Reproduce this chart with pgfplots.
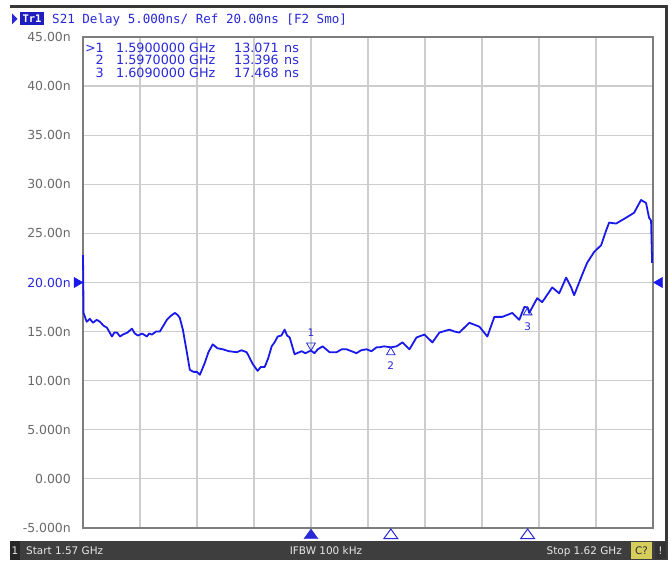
\documentclass[border=0pt]{standalone}
\usepackage{fontspec}
\setmainfont{DejaVu Sans}
\newfontfamily\monofont{DejaVu Sans Mono}
\usepackage{pgfplots}
\pgfplotsset{compat=1.18}
\definecolor{traceblue}{RGB}{25,25,235}
\definecolor{txtblue}{RGB}{40,40,215}
\definecolor{trbox}{RGB}{30,30,190}
\definecolor{labelgray}{RGB}{105,105,105}
\definecolor{gridgray}{RGB}{205,205,205}
\definecolor{framegray}{RGB}{125,125,125}
\definecolor{darkframe}{RGB}{55,55,55}
\definecolor{bargray}{RGB}{62,62,62}
\definecolor{bartext}{RGB}{232,232,232}
\definecolor{cyellow}{RGB}{214,206,92}
\begin{document}
\begin{tikzpicture}
\begin{scope}[x=1bp,y=1bp]
\useasboundingbox (0,0) rectangle (671,563);
% outer frame lines
\fill[darkframe] (10,555) rectangle (668,558);
\fill[darkframe] (665,22) rectangle (668,558);
% header
\fill[txtblue] (12,538.5) -- (17.5,544) -- (12,549.5) -- cycle;
\fill[trbox] (20,537.5) rectangle (44,550.5);
\node[white, font=\monofont\bfseries\fontsize{10.5}{12}\selectfont, inner sep=0pt] at (32,544) {Tr1};
\node[txtblue, anchor=base west, font=\monofont\fontsize{12.6}{14}\selectfont, inner sep=0pt] at (52,539.5) {S21 Delay 5.000ns/ Ref 20.00ns [F2 Smo]};
\end{scope}
\begin{axis}[
  at={(83bp,35bp)}, anchor=south west,
  scale only axis, width=570bp, height=491bp,
  xmin=1570, xmax=1620, ymin=-5, ymax=45,
  xtick={1570,1575,...,1620}, xticklabels={},
  ytick={-5,0,5,10,15,20,25,30,35,40,45},
  yticklabels={-5.000n,0.000,5.000n,10.00n,15.00n,\textcolor{txtblue}{20.00n},25.00n,30.00n,35.00n,40.00n,45.00n},
  yticklabel style={font=\fontsize{12.5}{13}\selectfont, text=labelgray, anchor=east, inner sep=0pt, xshift=-12bp},
  grid=major, major grid style={gridgray, line width=1.2bp},
  axis line style={framegray, line width=1.6bp},
  major tick length=0pt,
  clip=false,
]
\addplot[traceblue, line width=1.8bp, line join=round] coordinates {
(1570.00,22.8) (1570.05,16.9) (1570.32,16.0) (1570.60,16.3) (1570.88,15.9)
(1571.20,16.2) (1571.49,16.0) (1571.80,15.6) (1572.10,15.4) (1572.54,14.5)
(1572.75,14.9) (1572.98,14.9) (1573.25,14.5) (1573.50,14.7) (1573.90,14.9)
(1574.29,15.3) (1574.55,14.8) (1574.82,14.6) (1575.20,14.8) (1575.60,14.5)
(1575.80,14.8) (1576.04,14.7) (1576.40,15.0) (1576.74,15.0) (1577.05,15.6)
(1577.36,16.2) (1577.70,16.6) (1578.06,16.9) (1578.30,16.7) (1578.49,16.4)
(1578.76,15.2) (1579.11,12.9) (1579.37,11.1) (1579.70,10.9) (1580.00,10.9)
(1580.25,10.6) (1580.68,11.8) (1581.00,12.9) (1581.38,13.7) (1581.80,13.3)
(1582.26,13.2) (1582.80,13.0) (1583.49,12.9) (1583.90,13.1) (1584.36,12.9)
(1584.89,11.7) (1585.32,11.0) (1585.60,11.4) (1585.94,11.4) (1586.25,12.3)
(1586.55,13.5) (1586.80,13.9) (1587.08,14.5) (1587.40,14.6) (1587.69,15.2)
(1587.90,14.6) (1588.13,14.4) (1588.56,12.7) (1589.18,13.0) (1589.50,12.8)
(1590.00,13.07) (1590.30,12.8) (1590.60,13.2) (1591.02,13.5) (1591.63,12.9)
(1592.24,12.9) (1592.70,13.2) (1593.12,13.2) (1593.99,12.8) (1594.40,13.1)
(1594.87,13.2) (1595.30,13.0) (1595.75,13.4) (1596.01,13.4) (1596.40,13.5)
(1597.00,13.40) (1597.50,13.5) (1598.02,13.9) (1598.64,13.2) (1599.25,14.4)
(1599.95,14.7) (1600.65,13.9) (1601.26,14.9) (1602.14,15.2) (1602.60,15.0)
(1603.01,14.9) (1603.89,15.9) (1604.77,15.5) (1605.47,14.5) (1606.08,16.5)
(1606.78,16.5) (1607.66,16.9) (1608.27,16.2) (1608.71,17.5) (1609.00,17.47)
(1609.14,16.9) (1609.84,18.4) (1610.28,18.0) (1611.16,19.5) (1611.77,18.9)
(1612.38,20.5) (1612.82,19.5) (1613.08,18.7) (1613.79,20.8) (1614.22,22.0)
(1614.83,23.1) (1615.45,23.8) (1615.89,25.3) (1616.15,26.1) (1616.76,26.0)
(1617.64,26.6) (1618.34,27.1) (1618.95,28.4) (1619.39,28.1) (1619.65,26.6)
(1619.83,26.3) (1619.90,23.0) (1619.92,22.0)
};
% markers on trace
\addplot[only marks, txtblue, mark=triangle, mark size=5bp, mark options={yshift=5bp, rotate=180, line width=0.8bp, fill=white}] coordinates {(1590,13.071)};
\addplot[only marks, txtblue, mark=triangle, mark size=5bp, mark options={yshift=-5bp, line width=0.8bp, fill=white}] coordinates {(1597,13.396) (1609,17.468)};
\node[txtblue, font=\fontsize{10.5}{10}\selectfont, inner sep=0pt] at (axis cs:1590,13.071) [yshift=18bp] {1};
\node[txtblue, font=\fontsize{10.5}{10}\selectfont, inner sep=0pt] at (axis cs:1597,13.396) [yshift=-18bp] {2};
\node[txtblue, font=\fontsize{10.5}{10}\selectfont, inner sep=0pt] at (axis cs:1609,17.468) [yshift=-19bp] {3};
% marker indicators below axis
\addplot[only marks, txtblue, mark=triangle*, mark size=6.5bp, mark options={yshift=-7.5bp, xscale=1.25, fill=txtblue}] coordinates {(1590,-5)};
\addplot[only marks, txtblue, mark=triangle, mark size=6.5bp, mark options={yshift=-7.5bp, xscale=1.25, line width=1bp, fill=white}] coordinates {(1597,-5) (1609,-5)};
% reference level indicators
\addplot[only marks, traceblue, mark=triangle*, mark size=6bp, mark options={xshift=-6bp, rotate=-90, fill=traceblue}] coordinates {(1570,20)};
\addplot[only marks, traceblue, mark=triangle*, mark size=6bp, mark options={xshift=6.5bp, rotate=90, fill=traceblue}] coordinates {(1620,20)};
\end{axis}
\begin{scope}[x=1bp,y=1bp]
% marker table
\begin{scope}[every node/.style={txtblue, inner sep=0pt, font=\fontsize{12.8}{13}\selectfont}]
\node[anchor=base east] at (104,510.5) {>1};
\node[anchor=base west] at (116,510.5) {1.5900000};
\node[anchor=base west] at (189,510.5) {GHz};
\node[anchor=base east] at (279,510.5) {13.071};
\node[anchor=base west] at (284,510.5) {ns};
\node[anchor=base east] at (104,498) {2};
\node[anchor=base west] at (116,498) {1.5970000};
\node[anchor=base west] at (189,498) {GHz};
\node[anchor=base east] at (279,498) {13.396};
\node[anchor=base west] at (284,498) {ns};
\node[anchor=base east] at (104,485.5) {3};
\node[anchor=base west] at (116,485.5) {1.6090000};
\node[anchor=base west] at (189,485.5) {GHz};
\node[anchor=base east] at (279,485.5) {17.468};
\node[anchor=base west] at (284,485.5) {ns};
\end{scope}
% status bar
\fill[bargray] (10,3) rectangle (668,22);
\fill[black!85] (10,3) rectangle (20,22);
\begin{scope}[every node/.style={bartext, inner sep=0pt, font=\fontsize{10.5}{12}\selectfont}]
\node[anchor=base] at (15,8.6) {1};
\node[anchor=base west] at (26,8.6) {Start 1.57 GHz};
\node[anchor=base] at (326,8.6) {IFBW 100 kHz};
\node[anchor=base east] at (622,8.6) {Stop 1.62 GHz};
\end{scope}
\fill[cyellow] (631,4) rectangle (652,21);
\node[black!80, inner sep=0pt, anchor=base, font=\fontsize{10.5}{12}\selectfont] at (641.5,8.6) {C?};
\fill[black!80] (655,4) rectangle (666,21);
\node[bartext, inner sep=0pt, anchor=base, font=\fontsize{10.5}{12}\selectfont] at (660.5,8.6) {!};
\end{scope}
\end{tikzpicture}
\end{document}
